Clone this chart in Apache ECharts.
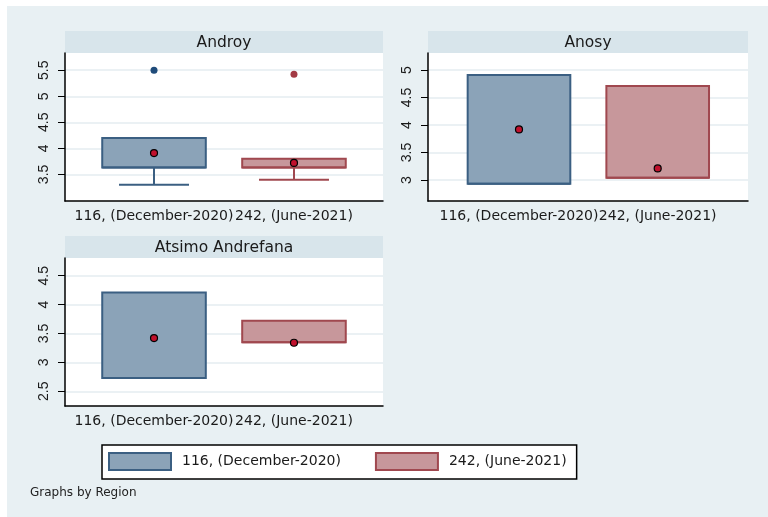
<!DOCTYPE html>
<html>
<head>
<meta charset="utf-8">
<script src="https://cdn.jsdelivr.net/npm/echarts@6/dist/echarts.min.js"></script>
<style>
html,body{margin:0;padding:0;background:#ffffff;}
#chart{width:768px;height:517px;}
</style>
</head>
<body>
<div id="chart"></div>
<script>
// ---- data ----
const periods = ['116, (December-2020)', '242, (June-2021)'];
const regions = ['Androy', 'Anosy', 'Atsimo Andrefana'];
// per region: [December, June]
const boxLow    = [[3.30, 3.40], [2.93, 3.04], [2.73, 3.35]];
const boxQ1     = [[3.635, 3.635], [2.93, 3.04], [2.73, 3.35]];
const boxMedian = [[3.635, 3.635], [2.93, 3.04], [2.73, 3.35]];
const boxQ3     = [[4.20, 3.80], [4.91, 4.71], [4.21, 3.72]];
const boxHigh   = [[4.20, 3.80], [4.91, 4.71], [4.21, 3.72]];
const means     = [[3.91, 3.72], [3.92, 3.21], [3.42, 3.34]];
const outliers  = [[[5.50], [5.42]], [[], []], [[], []]];
const yTicks    = [[3.5, 4, 4.5, 5, 5.5], [3, 3.5, 4, 4.5, 5], [2.5, 3, 3.5, 4, 4.5]];
const yRange    = [[2.99, 5.83], [2.618, 5.309], [2.245, 4.807]];
const xRange    = [[-0.636, 1.636], [-0.656, 1.651], [-0.636, 1.636]];

// ---- styles / layout ----
const fills   = ['#8ba3b8', '#c7979b'];
const strokes = ['#3b5f82', '#a0484f'];
const outColors = ['#1f4b7a', '#a33a44'];
const panels = [
  {left: 65,  top: 53,  width: 318, height: 148},
  {left: 428, top: 53,  width: 320, height: 148},
  {left: 65,  top: 258, width: 318, height: 148}
];
const titleH = 22;
const BOX_W = 0.74, CAP_W = 0.5;

const chart = echarts.init(document.getElementById('chart'), null, {renderer: 'canvas'});

const grid = [], xAxis = [], yAxis = [], series = [], graphic = [];

graphic.push({type: 'rect', z: -100, shape: {x: 7, y: 6, width: 761, height: 511}, style: {fill: '#e8f0f3'}});

panels.forEach((p, i) => {
  grid.push({left: p.left, top: p.top, width: p.width, height: p.height, show: true,
    backgroundColor: '#ffffff', borderWidth: 0, containLabel: false, outerBoundsMode: 'none'});
  graphic.push({type: 'rect', z: -50, shape: {x: p.left, y: p.top - titleH, width: p.width, height: titleH},
    style: {fill: '#d8e5eb'}});
  graphic.push({type: 'text', z: 10, x: p.left + p.width / 2, y: p.top - titleH / 2 + 0.5,
    style: {text: regions[i], font: '15.5px "DejaVu Sans"', fill: '#1a1a1a', align: 'center', verticalAlign: 'middle'}});
  xAxis.push({type: 'value', gridIndex: i, min: xRange[i][0], max: xRange[i][1],
    axisLine: {show: true, onZero: false, lineStyle: {color: '#000', width: 1.5}},
    axisTick: {show: false},
    splitLine: {show: false},
    axisLabel: {customValues: [0, 1], hideOverlap: false, margin: 8,
      formatter: v => periods[Math.round(v)],
      fontFamily: 'DejaVu Sans', fontSize: 14, color: '#1a1a1a'}});
  yAxis.push({type: 'value', gridIndex: i, min: yRange[i][0], max: yRange[i][1],
    axisLine: {show: true, onZero: false, lineStyle: {color: '#000', width: 1.5}},
    axisTick: {show: true, customValues: yTicks[i], length: 7, lineStyle: {color: '#000', width: 1}},
    splitLine: {show: true, lineStyle: {color: '#e4edf0', width: 1.5}},
    axisLabel: {customValues: yTicks[i], rotate: 90, margin: 14, hideOverlap: false,
      formatter: v => String(v),
      fontFamily: 'Liberation Sans', fontSize: 14, color: '#1a1a1a'}});

  for (let j = 0; j < 2; j++) {
    series.push({
      type: 'custom', name: periods[j], xAxisIndex: i, yAxisIndex: i,
      encode: {x: 0, y: [1, 2, 3, 4, 5]},
      data: [[j, boxLow[i][j], boxQ1[i][j], boxMedian[i][j], boxQ3[i][j], boxHigh[i][j]]],
      z: 2,
      renderItem: function (params, api) {
        const x = api.value(0);
        const low = api.value(1), q1 = api.value(2), med = api.value(3), q3 = api.value(4), high = api.value(5);
        const halfW = api.size([BOX_W, 0])[0] / 2;
        const capW = api.size([CAP_W, 0])[0] / 2;
        const pTop = api.coord([x, q3]);
        const pBot = api.coord([x, q1]);
        const pMed = api.coord([x, med]);
        const pHigh = api.coord([x, high]);
        const pLow = api.coord([x, low]);
        const lineStyle = {stroke: strokes[j], lineWidth: 2};
        const children = [];
        if (high > q3) {
          children.push({type: 'line', shape: {x1: pTop[0], y1: pTop[1], x2: pHigh[0], y2: pHigh[1]}, style: lineStyle});
          children.push({type: 'line', shape: {x1: pHigh[0] - capW, y1: pHigh[1], x2: pHigh[0] + capW, y2: pHigh[1]}, style: lineStyle});
        }
        if (low < q1) {
          children.push({type: 'line', shape: {x1: pBot[0], y1: pBot[1], x2: pLow[0], y2: pLow[1]}, style: lineStyle});
          children.push({type: 'line', shape: {x1: pLow[0] - capW, y1: pLow[1], x2: pLow[0] + capW, y2: pLow[1]}, style: lineStyle});
        }
        children.push({type: 'rect', shape: {x: pTop[0] - halfW, y: pTop[1], width: 2 * halfW, height: pBot[1] - pTop[1]},
          style: {fill: fills[j], stroke: strokes[j], lineWidth: 2}});
        children.push({type: 'line', shape: {x1: pMed[0] - halfW, y1: pMed[1], x2: pMed[0] + halfW, y2: pMed[1]}, style: lineStyle});
        return {type: 'group', children: children};
      }
    });
    if (outliers[i][j].length) {
      series.push({
        type: 'scatter', name: 'outlier-' + j, xAxisIndex: i, yAxisIndex: i, z: 4,
        data: outliers[i][j].map(v => [j, v]),
        symbol: 'circle', symbolSize: 7,
        itemStyle: {color: outColors[j], opacity: 1}
      });
    }
  }
  series.push({
    type: 'scatter', name: 'mean', xAxisIndex: i, yAxisIndex: i, z: 5,
    data: means[i].map((v, j) => [j, v]),
    symbol: 'circle', symbolSize: 7,
    itemStyle: {color: '#c0102c', borderColor: '#000', borderWidth: 1.2, opacity: 1}
  });
});

graphic.push({type: 'text', x: 30, y: 493,
  style: {text: 'Graphs by Region', font: '12px "DejaVu Sans"', fill: '#222', align: 'left', verticalAlign: 'middle'}});

chart.setOption({
  backgroundColor: '#ffffff',
  animation: false,
  grid: grid,
  xAxis: xAxis,
  yAxis: yAxis,
  legend: {
    left: 102, top: 445, orient: 'horizontal',
    padding: [7, 10, 8, 6],
    backgroundColor: '#ffffff', borderColor: '#000', borderWidth: 1.5, borderRadius: 0,
    itemWidth: 62, itemHeight: 17, itemGap: 34,
    selectedMode: false,
    textStyle: {fontFamily: 'DejaVu Sans', fontSize: 14, color: '#1a1a1a', padding: [0, 0, 0, 6]},
    data: periods.map((n, j) => ({name: n, icon: 'rect',
      itemStyle: {color: fills[j], borderColor: strokes[j], borderWidth: 2}}))
  },
  graphic: graphic,
  series: series
});
</script>
</body>
</html>
